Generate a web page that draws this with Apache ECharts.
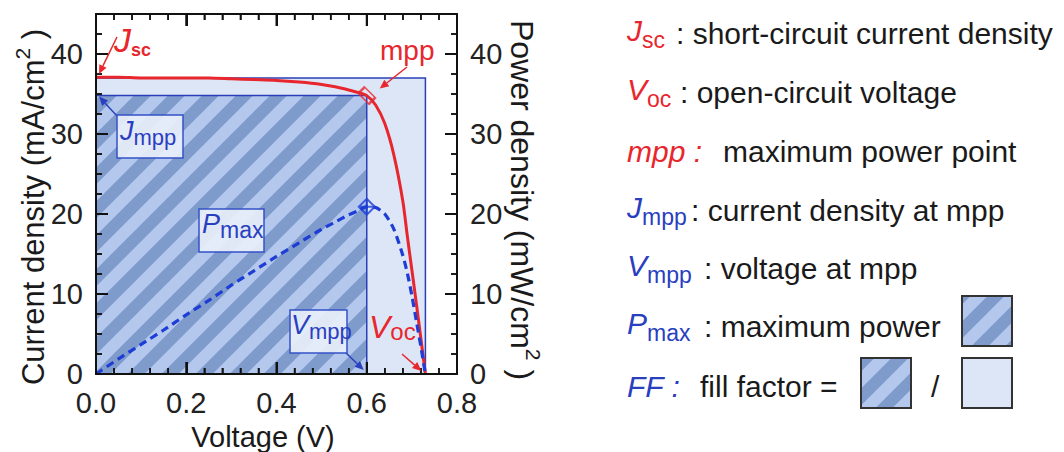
<!DOCTYPE html>
<html><head><meta charset="utf-8">
<script src="https://cdn.jsdelivr.net/npm/echarts@6/dist/echarts.min.js"></script>
<style>html,body{margin:0;padding:0;background:#fff}#c{width:1064px;height:452px}</style>
</head><body><div id="c"></div>
<script>
// ---- data ----
const voltage        = [0, 0.05, 0.10, 0.15, 0.20, 0.25, 0.30, 0.35, 0.40, 0.45, 0.50, 0.53, 0.56, 0.58, 0.60, 0.62, 0.64, 0.66, 0.68, 0.69, 0.70, 0.71, 0.72, 0.73];
const currentDensity = [37.1, 37.1, 37.0, 37.0, 37.0, 37.0, 36.9, 36.8, 36.7, 36.5, 36.2, 35.9, 35.5, 35.2, 34.8, 33.6, 31.3, 27.4, 21.6, 17.2, 13.0, 8.8, 4.4, 0];
const powerDensity   = [0, 1.9, 3.7, 5.5, 7.4, 9.2, 11.1, 12.9, 14.7, 16.4, 18.1, 19.0, 19.9, 20.4, 20.9, 20.8, 20.0, 18.1, 14.8, 12.6, 9.8, 6.6, 3.4, 0];
const xTickValues    = [0, 0.2, 0.4, 0.6, 0.8];
const yTickValues    = [0, 10, 20, 30, 40];
const Jsc = 37.0, Voc = 0.73, Vmpp = 0.60, Jmpp = 34.8, Pmax = 20.9;
const legendRows = [
  {sym: 'J', sub: 'sc',  color: 'red',  desc: ': short-circuit current density'},
  {sym: 'V', sub: 'oc',  color: 'red',  desc: ': open-circuit voltage'},
  {sym: 'mpp :', sub: '', color: 'red', desc: 'maximum power point'},
  {sym: 'J', sub: 'mpp', color: 'blue', desc: ': current density at mpp'},
  {sym: 'V', sub: 'mpp', color: 'blue', desc: ': voltage at mpp'},
  {sym: 'P', sub: 'max', color: 'blue', desc: ': maximum power'},
  {sym: 'FF :', sub: '', color: 'blue', desc: 'fill factor ='}
];

// ---- styles ----
const FONT = '"Liberation Sans", Arial, Helvetica, sans-serif';
const RED = '#e8262d', BLUE = '#2a3fc0', DASH = '#1e3dd6', BORDER = '#2a40b8', INK = '#1a1a1a';
const LIGHT = '#dce6f6', STRIPE_L = '#b3c8ec', STRIPE_D = '#7f9bcb';

function hatch(size, light, dark) {
  const c = document.createElement('canvas'); c.width = c.height = size;
  const g = c.getContext('2d');
  g.fillStyle = light; g.fillRect(0, 0, size, size);
  g.strokeStyle = dark; g.lineWidth = size / (2 * Math.SQRT2);
  for (let k = 0; k <= 2; k++) {
    const cc = k * size;
    g.beginPath(); g.moveTo(cc + size, -size); g.lineTo(cc - 2 * size, 2 * size); g.stroke();
  }
  return c;
}
const hatchImg = hatch(34, STRIPE_L, STRIPE_D);
const hatchImgSmall = hatch(34, STRIPE_L, STRIPE_D);

const chart = echarts.init(document.getElementById('c'), null, {renderer: 'svg'});

function xAx(pos, labels) {
  return {type: 'value', position: pos, min: 0, max: 0.8, interval: 0.2, z: 20,
    axisLine: {show: true, onZero: false, lineStyle: {color: '#111', width: 2}},
    axisTick: {show: true, inside: true, length: 12, lineStyle: {color: '#111', width: 2}},
    minorTick: {show: true, splitNumber: 5, length: 6, lineStyle: {color: '#111', width: 1.5}},
    axisLabel: {show: labels, fontSize: 29, lineHeight: 29, color: '#222', fontFamily: FONT, margin: 14,
      formatter: v => v.toFixed(1)},
    splitLine: {show: false}};
}
function yAx(pos, major) {
  return {type: 'value', position: pos, offset: 0, min: 0, max: 45, interval: major ? 10 : 2.5, z: 20,
    axisLine: {show: major, onZero: false, lineStyle: {color: '#111', width: 2}},
    axisTick: {show: true, inside: true, length: major ? 12 : 6, lineStyle: {color: '#111', width: major ? 2 : 1.5}},
    axisLabel: {show: major, fontSize: 29, lineHeight: 22, color: '#222', fontFamily: FONT, margin: 13, showMaxLabel: false},
    splitLine: {show: false}};
}

const jData = voltage.map((v, i) => [v, currentDensity[i]]);
const pData = voltage.map((v, i) => [v, powerDensity[i]]);

chart.setOption({
  animation: false,
  backgroundColor: '#fff',
  grid: {left: 96, right: 607, top: 14, bottom: 78},
  xAxis: [xAx('bottom', true), xAx('top', false)],
  yAxis: [yAx('left', true), yAx('left', false), yAx('right', true), yAx('right', false)],
  series: [
    {type: 'line', name: 'areas', xAxisIndex: 0, yAxisIndex: 0, data: [], silent: true, z: 1,
      markArea: {silent: true, label: {show: false},
        data: [
          [{coord: [0, 0], itemStyle: {color: LIGHT, borderColor: BORDER, borderWidth: 1.5}}, {coord: [Voc, Jsc]}],
          [{coord: [0, 0], itemStyle: {color: {image: hatchImg, repeat: 'repeat'}, borderColor: BORDER, borderWidth: 1.5}}, {coord: [Vmpp, Jmpp]}]
        ]}},
    {type: 'line', name: 'J', xAxisIndex: 0, yAxisIndex: 0, data: jData, showSymbol: false, symbol: 'none',
      smooth: 0.25, lineStyle: {color: RED, width: 3}, z: 5},
    {type: 'line', name: 'P', xAxisIndex: 0, yAxisIndex: 2, data: pData, showSymbol: false, symbol: 'none',
      smooth: 0.25, lineStyle: {color: DASH, width: 3.2, type: [8, 5]}, z: 5},
    {type: 'scatter', xAxisIndex: 0, yAxisIndex: 0, data: [[Vmpp, Jmpp]], symbol: 'rect', symbolSize: [9, 15],
      symbolRotate: 45, itemStyle: {color: 'rgba(0,0,0,0)', borderColor: RED, borderWidth: 2}, z: 6, silent: true},
    {type: 'scatter', xAxisIndex: 0, yAxisIndex: 2, data: [[Vmpp, Pmax]],
      symbol: 'path://M0,-8L8,0L0,8L-8,0Z M-8,0L8,0 M0,-8L0,8', symbolSize: 16,
      itemStyle: {color: 'rgba(0,0,0,0)', borderColor: DASH, borderWidth: 2}, z: 6, silent: true}
  ]
});

// ---- helpers ----
function px(v, j) { return chart.convertToPixel({xAxisIndex: 0, yAxisIndex: 0}, [v, j]); }
function seg(x1, y1, x2, y2, color, w) {
  return {type: 'line', z: 100, silent: true, shape: {x1: x1, y1: y1, x2: x2, y2: y2}, style: {stroke: color, lineWidth: w}};
}
function tickRect(x, y, w, h) {
  return {type: 'rect', z: 100, silent: true, shape: {x: x, y: y, width: w, height: h}, style: {fill: '#111'}};
}
function arrow(x1, y1, x2, y2, color, w) {
  const a = Math.atan2(y2 - y1, x2 - x1), L = 9, H = 4;
  const bx = x2 - L * Math.cos(a), by = y2 - L * Math.sin(a);
  const ox = -Math.sin(a) * H, oy = Math.cos(a) * H;
  return [seg(x1, y1, bx, by, color, w),
    {type: 'polygon', z: 100, silent: true, shape: {points: [[x2, y2], [bx + ox, by + oy], [bx - ox, by - oy]]}, style: {fill: color}}];
}
function subRich(F, f, d, color, weightSub) {
  return {
    m: {fontSize: F, lineHeight: F, fontStyle: 'italic', fontFamily: FONT, fill: color, padding: [0, 0, d, 0]},
    s: {fontSize: f, lineHeight: f, fontFamily: FONT, fill: color, fontWeight: weightSub || 'normal', padding: [F + d - f, 0, 0, 0]}
  };
}
function label(x, y, sym, sub, color, F, f, d, weightSub) {
  return {type: 'text', z: 110, silent: true, x: x, y: y,
    style: {text: '{m|' + sym + '}{s|' + sub + '}', rich: subRich(F, f, d, color, weightSub), verticalAlign: 'top', align: 'left'}};
}
function box(x, y, w, h) {
  return {type: 'rect', z: 105, silent: true, shape: {x: x, y: y, width: w, height: h},
    style: {fill: 'rgba(232,239,250,0.92)', stroke: '#3552c8', lineWidth: 1.5}};
}

const g = [];
// inside tick marks on all four sides, placed through the axes' own scales
const yB = px(0, 0)[1], yT = px(0, 45)[1], xL = px(0, 0)[0], xR = px(0.8, 0)[0];
for (let k = 1; k < 20; k++) {
  const X = px(k * 0.04, 0)[0], major = (k % 5 === 0), len = major ? 12 : 6, w = major ? 2 : 1.5;
  g.push(tickRect(X - w / 2, yB - len, w, len));
  g.push(tickRect(X - w / 2, yT, w, len));
}
for (let k = 1; k < 18; k++) {
  const Y = px(0, k * 2.5)[1], major = (k % 4 === 0), len = major ? 12 : 6, w = major ? 2 : 1.5;
  g.push(tickRect(xL, Y - w / 2, len, w));
  g.push(tickRect(xR - len, Y - w / 2, len, w));
}

// annotations
const pJsc = px(0, Jsc), pJmpp = px(0, Jmpp), pMpp = px(Vmpp, Jmpp), pVmpp = px(Vmpp, 0), pVoc = px(Voc, 0);
g.push(...arrow(117, 37, pJsc[0] + 3, pJsc[1] - 4, RED, 1.5));
g.push(label(114, 24, 'J', 'sc', RED, 34, 18, 2, 'bold'));
g.push(...arrow(407, 67, pMpp[0] + 13, pMpp[1] - 7, RED, 1.5));
g.push({type: 'text', z: 110, silent: true, x: 380, y: 50,
  style: {text: 'mpp', fontSize: 28, fontFamily: FONT, fill: RED, verticalAlign: 'middle', align: 'left'}});
g.push(...arrow(118, 117, pJmpp[0] + 3, pJmpp[1] + 1, BLUE, 1.5));
g.push(box(117, 115, 66, 43));
g.push(label(120, 119, 'J', 'mpp', BLUE, 27, 22, 4));
g.push(box(199, 209, 65, 43));
g.push(label(202, 212, 'P', 'max', BLUE, 27, 23, 4));
g.push(...arrow(345, 352, pVmpp[0] - 3, pVmpp[1] - 4, BLUE, 1.5));
g.push(box(290, 310, 57, 43));
g.push(label(291, 313, 'V', 'mpp', BLUE, 27, 22, 4));
g.push(...arrow(402, 354, pVoc[0] - 4, pVoc[1] - 3, RED, 1.5));
g.push(label(369, 311, 'V', 'oc', RED, 32, 24, 0));

function supTitle(x, y, rot, text, sup, tail, F) {
  return {type: 'text', z: 110, silent: true, x: x, y: y, rotation: rot,
    style: {text: '{m|' + text + '}{s|' + sup + '}{m|' + tail + '}', align: 'center', verticalAlign: 'middle',
      rich: {m: {fontSize: F, lineHeight: F, fontFamily: FONT, fill: INK, padding: [8, 0, 0, 0]},
             s: {fontSize: 21, lineHeight: 21, fontFamily: FONT, fill: INK, padding: [0, 0, F + 8 - 21 - 4, 0]}}}};
}
g.push(supTitle(29, 207, Math.PI / 2, 'Current density (mA/cm', '2', ' )', 31));
g.push(supTitle(526, 200, -Math.PI / 2, 'Power density (mW/cm', '2', ' )', 32));
g.push({type: 'text', z: 110, silent: true, x: 263, y: 437,
  style: {text: 'Voltage (V)', fontSize: 29, fontFamily: FONT, fill: INK, align: 'center', verticalAlign: 'middle'}});

// legend block (right)
const rowY = [18, 77, 136, 195, 253, 311, 371];
const descX = [676, 680, 723, 691, 704, 704, 700];
legendRows.forEach((r, i) => {
  const col = r.color === 'red' ? RED : BLUE;
  if (r.sub) {
    g.push(label(627, rowY[i], r.sym, r.sub, col, 30, 23, 6));
  } else {
    g.push({type: 'text', z: 110, silent: true, x: 627, y: rowY[i],
      style: {text: r.sym, fontSize: 30, fontStyle: 'italic', fontFamily: FONT, fill: col, verticalAlign: 'top', align: 'left'}});
  }
  g.push({type: 'text', z: 110, silent: true, x: descX[i], y: rowY[i],
    style: {text: r.desc, fontSize: 30, fontFamily: FONT, fill: INK, verticalAlign: 'top', align: 'left'}});
});
function legendBox(x, y, hatched) {
  return {type: 'rect', z: 105, silent: true, shape: {x: x, y: y, width: 50, height: 50},
    style: {fill: hatched ? {image: hatchImgSmall, repeat: 'repeat'} : LIGHT, stroke: '#333', lineWidth: 2}};
}
g.push(legendBox(962, 296, true));
g.push(legendBox(861, 358, true));
g.push({type: 'text', z: 110, silent: true, x: 931, y: 371,
  style: {text: '/', fontSize: 30, fontFamily: FONT, fill: INK, verticalAlign: 'top', align: 'left'}});
g.push(legendBox(962, 358, false));

chart.setOption({graphic: {elements: g}});
</script>
</body></html>
